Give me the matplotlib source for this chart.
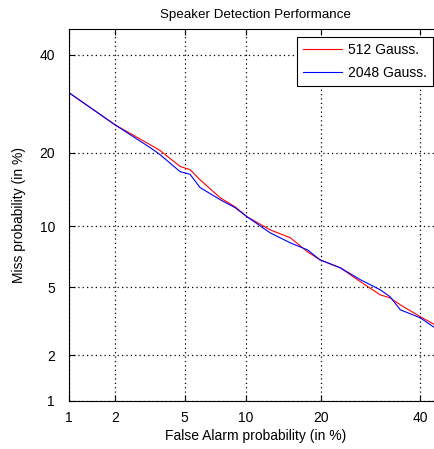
from statistics import NormalDist
import numpy as np
import matplotlib
matplotlib.use("Agg")
import matplotlib.pyplot as plt
from matplotlib.ticker import FixedLocator, NullLocator

# DET curve points (false alarm %, miss %)
fa_512 = [1.0, 2.0, 3.23, 3.68, 4.74, 5.35, 6.02, 7.57, 8.92, 10.1, 12.7, 15.4,
          17.9, 19.9, 23.4, 27.2, 31.2, 33.3, 35.5, 40.0, 43.4, 46.0]
miss_512 = [31.5, 25.0, 21.4, 20.4, 17.8, 17.3, 15.8, 13.35, 12.2, 11.05, 9.65, 8.85,
            7.58, 6.92, 6.31, 5.34, 4.54, 4.37, 4.00, 3.42, 3.07, 2.9]

fa_2048 = fa_512
miss_2048 = [31.5, 25.0, 20.9, 19.7, 17.0, 16.6, 14.7, 13.1, 12.1, 11.05, 9.35, 8.37,
             7.75, 6.92, 6.31, 5.47, 4.84, 4.43, 3.75, 3.37, 2.94, 2.8]

tick_vals = [1, 2, 5, 10, 20, 40]
tick_labels = ["1", "2", "5", "10", "20", "40"]

nd = NormalDist()
to_dev = np.vectorize(lambda p: nd.inv_cdf(min(max(p / 100.0, 1e-9), 1 - 1e-9)), otypes=[float])
from_dev = np.vectorize(lambda z: nd.cdf(z) * 100.0, otypes=[float])

plt.rcParams["font.family"] = ["Liberation Sans", "DejaVu Sans"]
plt.rcParams["font.size"] = 10

fig = plt.figure(figsize=(4.35, 4.49), dpi=100)
ax = fig.add_axes([69 / 435, 48 / 449, 373 / 435, 372 / 449])
ax.set_xscale("function", functions=(to_dev, from_dev))
ax.set_yscale("function", functions=(to_dev, from_dev))

ax.plot(fa_512, miss_512, color="r", linewidth=0.8, label="512 Gauss.")
ax.plot(fa_2048, miss_2048, color="b", linewidth=0.8, label="2048 Gauss.")

ax.set_xlim(1, 45)
ax.set_ylim(1, 46)
for axis in (ax.xaxis, ax.yaxis):
    axis.set_major_locator(FixedLocator(tick_vals))
    axis.set_minor_locator(NullLocator())
ax.set_xticklabels(tick_labels)
ax.set_yticklabels(tick_labels)
ax.tick_params(direction="in", top=True, right=True, length=4, width=0.8)
ax.tick_params(axis="x", pad=7)
ax.tick_params(axis="y", pad=10)
ax.grid(True, linestyle=(0, (1, 2.5)), color="k", linewidth=0.9)

ax.set_xlabel("False Alarm probability (in %)", labelpad=3)
ax.set_ylabel("Miss probability (in %)", labelpad=10)
ax.set_title("Speaker Detection Performance", fontsize=9.6, pad=8)

leg = ax.legend(loc="upper right", bbox_to_anchor=(433 / 435, 1 - 37 / 449),
                bbox_transform=fig.transFigure, borderaxespad=0, fancybox=False,
                framealpha=1, edgecolor="k", handlelength=2.8, handletextpad=0.4,
                borderpad=0.45, labelspacing=0.6)
leg.get_frame().set_linewidth(0.8)

fig.savefig("out.png", dpi=100)
